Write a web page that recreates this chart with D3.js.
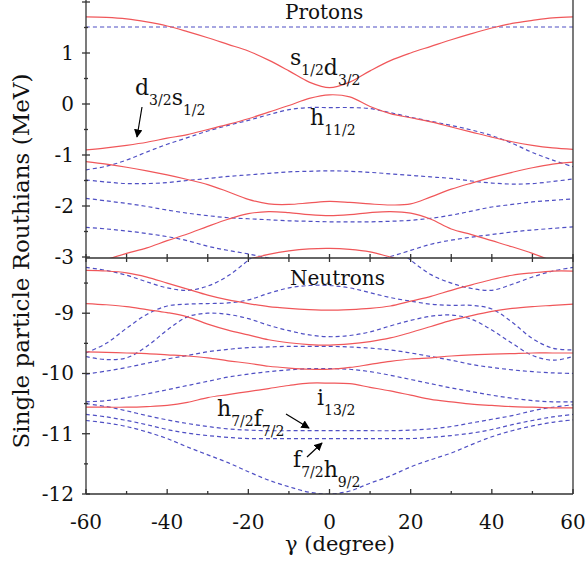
<html lang="en">
<head>
<meta charset="UTF-8">
<title>Routhians</title>
<style>
  body { margin: 0; background: #fff; }
  text { font-family: "DejaVu Serif", serif; fill: #111; }
</style>
</head>
<body>
<script src="https://d3js.org/d3.v7.min.js"></script>
<script>
// gamma grid (degree), shared by every curve
const gamma = [-60,-55,-50,-45,-40,-35,-30,-25,-20,-15,-10,-5,0,5,10,15,20,25,30,35,40,45,50,55,60]

// protons (MeV), red = solid, blue = dashed
const pRed1 = [1.71,1.70,1.67,1.61,1.53,1.42,1.30,1.17,1.04,0.86,0.65,0.43,0.32,0.43,0.65,0.85,1.00,1.13,1.26,1.38,1.49,1.58,1.64,1.69,1.71]
const pRed2 = [-0.90,-0.86,-0.81,-0.75,-0.67,-0.60,-0.50,-0.40,-0.29,-0.16,-0.03,0.11,0.18,0.14,-0.05,-0.19,-0.27,-0.35,-0.45,-0.55,-0.65,-0.74,-0.81,-0.86,-0.89]
const pRed3 = [-1.13,-1.18,-1.24,-1.31,-1.39,-1.48,-1.58,-1.72,-1.87,-1.96,-1.97,-1.94,-1.91,-1.93,-1.96,-1.98,-1.96,-1.82,-1.67,-1.55,-1.44,-1.34,-1.25,-1.18,-1.14]
const pRed4 = [null,-3.05,-2.93,-2.82,-2.68,-2.55,-2.40,-2.26,-2.15,-2.11,-2.13,-2.17,-2.19,-2.17,-2.13,-2.11,-2.14,-2.26,-2.45,-2.56,-2.68,-2.80,-2.93,-3.08,null]
const pRed5 = [null,null,null,null,null,null,null,-3.2,-3.05,-2.95,-2.88,-2.84,-2.83,-2.85,-2.90,-3.0,-3.1,null,null,null,null,null,null,null,null]
const pBlue1 = [1.51,1.51,1.51,1.51,1.51,1.51,1.51,1.51,1.51,1.51,1.51,1.51,1.51,1.51,1.51,1.51,1.51,1.51,1.51,1.51,1.51,1.51,1.51,1.51,1.51]
const pBlue2 = [-1.29,-1.22,-1.10,-0.94,-0.79,-0.66,-0.53,-0.42,-0.32,-0.21,-0.11,-0.07,-0.07,-0.07,-0.09,-0.17,-0.26,-0.34,-0.42,-0.51,-0.62,-0.77,-0.95,-1.10,-1.23]
const pBlue3 = [-1.49,-1.53,-1.56,-1.56,-1.54,-1.50,-1.46,-1.42,-1.39,-1.36,-1.33,-1.32,-1.31,-1.32,-1.34,-1.37,-1.40,-1.43,-1.46,-1.51,-1.55,-1.57,-1.56,-1.52,-1.47]
const pBlue4 = [-1.85,-1.90,-1.95,-2.01,-2.08,-2.14,-2.19,-2.23,-2.25,-2.27,-2.29,-2.30,-2.31,-2.31,-2.31,-2.30,-2.28,-2.24,-2.18,-2.10,-2.02,-1.97,-1.92,-1.89,-1.86]
const pBlue5 = [-2.42,-2.45,-2.49,-2.54,-2.60,-2.68,-2.79,-2.87,-2.94,-3.02,-3.08,-3.12,-3.13,-3.12,-3.08,-2.99,-2.87,-2.75,-2.67,-2.61,-2.56,-2.51,-2.47,-2.44,-2.41]

// neutrons (MeV)
const nRed1 = [-8.29,-8.30,-8.33,-8.40,-8.50,-8.60,-8.70,-8.78,-8.84,-8.89,-8.92,-8.94,-8.95,-8.94,-8.92,-8.88,-8.80,-8.72,-8.62,-8.53,-8.44,-8.37,-8.33,-8.30,-8.30]
const nRed2 = [-8.84,-8.86,-8.89,-8.94,-8.99,-9.06,-9.18,-9.28,-9.36,-9.44,-9.49,-9.52,-9.53,-9.51,-9.47,-9.41,-9.32,-9.22,-9.12,-9.04,-8.97,-8.92,-8.89,-8.87,-8.85]
const nRed3 = [-9.64,-9.65,-9.66,-9.67,-9.69,-9.71,-9.74,-9.79,-9.83,-9.88,-9.91,-9.93,-9.93,-9.90,-9.85,-9.80,-9.76,-9.74,-9.71,-9.69,-9.68,-9.67,-9.66,-9.66,-9.66]
const nRed4 = [-10.56,-10.56,-10.56,-10.55,-10.53,-10.48,-10.40,-10.35,-10.30,-10.25,-10.20,-10.16,-10.16,-10.17,-10.23,-10.29,-10.36,-10.43,-10.47,-10.51,-10.53,-10.55,-10.56,-10.57,-10.57]
const nBlue1 = [-8.24,-8.29,-8.37,-8.48,-8.58,-8.62,-8.55,-8.38,-8.12,-7.85,null,null,null,null,null,-7.85,-8.12,-8.36,-8.50,-8.59,-8.62,-8.52,-8.40,-8.30,-8.24]
const nBlue2 = [-9.66,-9.50,-9.25,-9.02,-8.88,-8.85,-8.84,-8.83,-8.78,-8.67,-8.58,-8.54,-8.54,-8.58,-8.66,-8.74,-8.80,-8.85,-8.87,-8.87,-8.93,-9.15,-9.42,-9.58,-9.61]
const nBlue3 = [-9.72,-9.77,-9.74,-9.55,-9.28,-9.06,-9.00,-9.02,-9.09,-9.20,-9.29,-9.36,-9.39,-9.37,-9.31,-9.21,-9.12,-9.05,-9.03,-9.10,-9.28,-9.50,-9.70,-9.78,-9.72]
const nBlue4 = [-10.01,-9.96,-9.90,-9.83,-9.76,-9.70,-9.64,-9.60,-9.57,-9.56,-9.55,-9.55,-9.55,-9.56,-9.58,-9.61,-9.66,-9.72,-9.78,-9.85,-9.90,-9.94,-9.97,-9.99,-10.00]
const nBlue5 = [-10.47,-10.45,-10.40,-10.34,-10.27,-10.20,-10.13,-10.06,-10.01,-9.97,-9.94,-9.92,-9.92,-9.93,-9.97,-10.03,-10.10,-10.17,-10.24,-10.30,-10.36,-10.41,-10.45,-10.47,-10.47]
const nBlue6 = [-10.50,-10.55,-10.62,-10.70,-10.77,-10.83,-10.88,-10.92,-10.94,-10.95,-10.95,-10.95,-10.95,-10.95,-10.95,-10.95,-10.94,-10.92,-10.88,-10.82,-10.76,-10.70,-10.62,-10.56,-10.52]
const nBlue7 = [-10.68,-10.72,-10.78,-10.85,-10.93,-10.99,-11.03,-11.06,-11.08,-11.08,-11.08,-11.08,-11.08,-11.08,-11.08,-11.08,-11.08,-11.06,-11.03,-10.99,-10.93,-10.85,-10.78,-10.72,-10.68]
const nBlue8 = [-10.78,-10.82,-10.88,-10.97,-11.08,-11.22,-11.35,-11.48,-11.63,-11.77,-11.88,-11.97,-12.0,-11.95,-11.82,-11.70,-11.55,-11.43,-11.32,-11.18,-11.05,-10.95,-10.87,-10.81,-10.77]

const xTicks = [-60,-40,-20,0,20,40,60]
const topTicks = [1,0,-1,-2,-3]
const botTicks = [-9,-10,-11,-12]

const m = { width: 587, height: 563, left: 86, right: 573 }
const red = '#f0575a'
const blue = '#4f4fc4'

const svg = d3.select('body').append('svg')
    .attr('width', m.width)
    .attr('height', m.height)

svg.append('rect').attr('width', m.width).attr('height', m.height).attr('fill', '#fff')

const x = d3.scaleLinear().domain([-60, 60]).range([m.left, m.right])
const yTop = d3.scaleLinear().domain([-3, 2]).range([257, 2])
const yBot = d3.scaleLinear().domain([-12, -8.2]).range([494, 265])

const defs = svg.append('defs')
defs.append('clipPath').attr('id', 'clipTop')
    .append('rect').attr('x', m.left).attr('y', 0).attr('width', m.right - m.left).attr('height', 258)
defs.append('clipPath').attr('id', 'clipBot')
    .append('rect').attr('x', m.left).attr('y', 258).attr('width', m.right - m.left).attr('height', 236)
defs.append('marker').attr('id', 'arrow')
    .attr('viewBox', '0 0 10 10').attr('refX', 9).attr('refY', 5)
    .attr('markerWidth', 7).attr('markerHeight', 7).attr('orient', 'auto')
  .append('path').attr('d', 'M0,0 L10,5 L0,10 Z').attr('fill', '#000')

function drawCurves(g, y, list, color, dashed) {
    const line = d3.line()
        .defined(d => d[1] !== null)
        .x(d => x(d[0]))
        .y(d => y(d[1]))
        .curve(d3.curveCatmullRom.alpha(0.5))
    list.forEach(vals => {
        g.append('path')
            .datum(gamma.map((gm, i) => [gm, vals[i]]))
            .attr('fill', 'none')
            .attr('stroke', color)
            .attr('stroke-width', 1.2)
            .attr('stroke-dasharray', dashed ? '4,3' : null)
            .attr('d', line)
    })
}

const gTop = svg.append('g').attr('clip-path', 'url(#clipTop)')
drawCurves(gTop, yTop, [pBlue1, pBlue2, pBlue3, pBlue4, pBlue5], blue, true)
drawCurves(gTop, yTop, [pRed1, pRed2, pRed3, pRed4, pRed5], red, false)

const gBot = svg.append('g').attr('clip-path', 'url(#clipBot)')
drawCurves(gBot, yBot, [nBlue1, nBlue2, nBlue3, nBlue4, nBlue5, nBlue6, nBlue7, nBlue8], blue, true)
drawCurves(gBot, yBot, [nRed1, nRed2, nRed3, nRed4], red, false)

// frame
const axisColor = '#333'
const frame = svg.append('g').attr('stroke', axisColor).attr('stroke-width', 1.3).attr('fill', 'none')
frame.append('line').attr('x1', m.left).attr('x2', m.left).attr('y1', 0).attr('y2', 494)
frame.append('line').attr('x1', m.right).attr('x2', m.right).attr('y1', 0).attr('y2', 494)
frame.append('line').attr('x1', m.left).attr('x2', m.right).attr('y1', 258).attr('y2', 258)
frame.append('line').attr('x1', m.left).attr('x2', m.right).attr('y1', 494).attr('y2', 494)

// x ticks every 10 on the shared line and the bottom
d3.range(-60, 61, 10).forEach(v => {
    const len = v % 20 === 0 ? 5 : 3
    frame.append('line').attr('x1', x(v)).attr('x2', x(v)).attr('y1', 494).attr('y2', 494 - len)
    frame.append('line').attr('x1', x(v)).attr('x2', x(v)).attr('y1', 258 - 4).attr('y2', 258 + 4)
})

// y ticks
d3.range(-3, 2.01, 0.5).forEach(v => {
    const len = Number.isInteger(v) ? 4 : 2
    frame.append('line').attr('x1', m.left - len).attr('x2', m.left + len).attr('y1', yTop(v)).attr('y2', yTop(v))
})
d3.range(-12, -8.2, 0.5).forEach(v => {
    const len = Number.isInteger(v) ? 4 : 2
    frame.append('line').attr('x1', m.left - len).attr('x2', m.left + len).attr('y1', yBot(v)).attr('y2', yBot(v))
})

const fs = 20
svg.selectAll('.tt').data(topTicks).enter().append('text')
    .attr('x', 74).attr('y', d => yTop(d) + 7)
    .attr('text-anchor', 'end').attr('font-size', fs)
    .text(d => d)
svg.selectAll('.tb').data(botTicks).enter().append('text')
    .attr('x', 74).attr('y', d => yBot(d) + 7)
    .attr('text-anchor', 'end').attr('font-size', fs)
    .text(d => d)
svg.selectAll('.tx').data(xTicks).enter().append('text')
    .attr('x', d => x(d)).attr('y', 529)
    .attr('text-anchor', 'middle').attr('font-size', fs)
    .text(d => d)

svg.append('text').attr('x', 340).attr('y', 551).attr('text-anchor', 'middle')
    .attr('font-size', 21).text('γ (degree)')
svg.append('text').attr('transform', 'translate(29,261) rotate(-90)')
    .attr('text-anchor', 'middle').attr('font-size', 23)
    .text('Single particle Routhians (MeV)')

svg.append('text').attr('x', 285).attr('y', 19).attr('font-size', 20).text('Protons')
svg.append('text').attr('x', 290).attr('y', 285).attr('font-size', 20).text('Neutrons')

// level labels with subscripts
function label(px, py, parts) {
    const t = svg.append('text').attr('x', px).attr('y', py).attr('font-size', 22)
    parts.forEach(p => {
        t.append('tspan').attr('dy', 0).text(p[0])
        t.append('tspan').attr('font-size', 14).attr('dy', 10).text(p[1])
        t.append('tspan').attr('font-size', 22).attr('dy', -10).text('')
    })
}
label(290, 65, [['s', '1/2'], ['d', '3/2']])
label(135, 95, [['d', '3/2'], ['s', '1/2']])
label(310, 125, [['h', '11/2']])
label(317, 405, [['i', '13/2']])
label(217, 416, [['h', '7/2'], ['f', '7/2']])
label(293, 467, [['f', '7/2'], ['h', '9/2']])

function arrow(x1, y1, x2, y2) {
    svg.append('line').attr('x1', x1).attr('y1', y1).attr('x2', x2).attr('y2', y2)
        .attr('stroke', '#000').attr('stroke-width', 1.2).attr('marker-end', 'url(#arrow)')
}
arrow(142, 107, 137, 137)
arrow(286, 414, 309, 428)
arrow(307, 457, 322, 443)
</script>
</body>
</html>
